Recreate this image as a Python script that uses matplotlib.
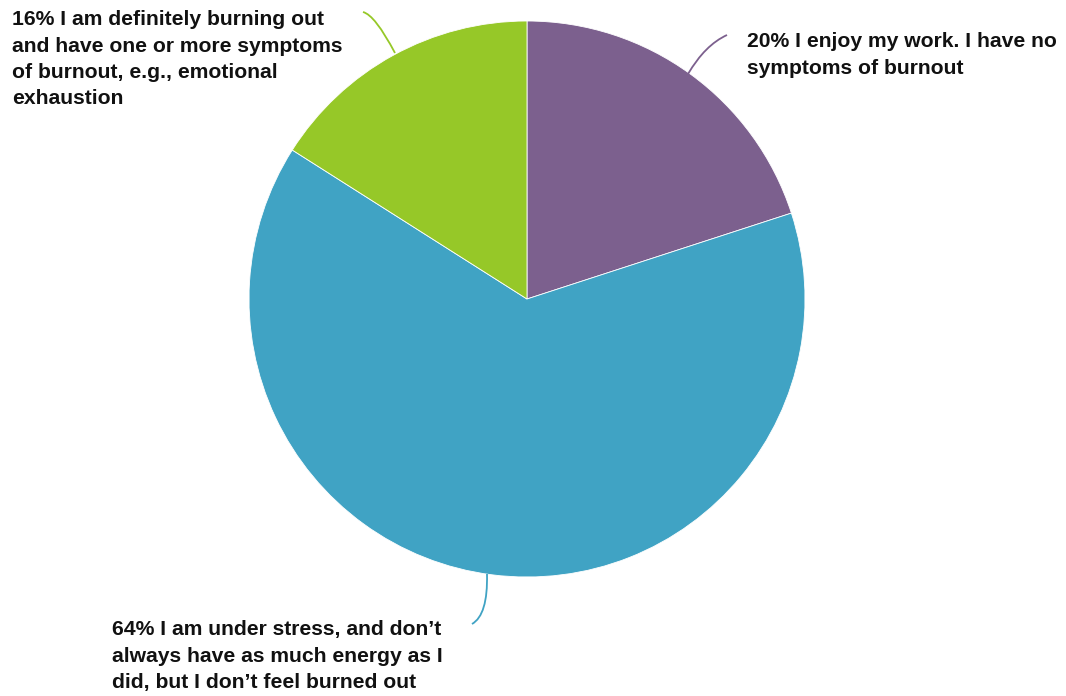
import matplotlib
matplotlib.use("Agg")
import matplotlib.pyplot as plt
from matplotlib.path import Path
from matplotlib.patches import PathPatch

labels = ["20% I enjoy my work. I have no\nsymptoms of burnout",
          "64% I am under stress, and don\u2019t\nalways have as much energy as I\ndid, but I don\u2019t feel burned out",
          "16% I am definitely burning out\nand have one or more symptoms\nof burnout, e.g., emotional\nexhaustion"]
values = [20, 64, 16]
colors = ["#7C608E", "#40A3C4", "#96C828"]

W, H = 1066, 696
fig = plt.figure(figsize=(W / 100, H / 100), dpi=100)
ax = fig.add_axes([0, 0, 1, 1])
ax.set_xlim(0, W)
ax.set_ylim(0, H)
ax.set_aspect("equal")
ax.axis("off")

cx, cy, r = 527, H - 299, 278
ax.pie(values, colors=colors, startangle=90, counterclock=False,
       center=(cx, cy), radius=r, frame=True,
       wedgeprops=dict(edgecolor="white", linewidth=0.6))
ax.set_xlim(0, W)
ax.set_ylim(0, H)
ax.axis("off")

def leader(p0, c, p1, color):
    path = Path([(p0[0], H - p0[1]), (c[0], H - c[1]), (p1[0], H - p1[1])],
                [Path.MOVETO, Path.CURVE3, Path.CURVE3])
    ax.add_patch(PathPatch(path, facecolor="none", edgecolor=color, lw=1.3))

leader((688, 74), (705, 45), (727, 35), colors[0])
leader((487, 574), (488, 615), (472, 624), colors[1])
leader((395, 53), (375, 15), (363, 12), colors[2])

font = dict(family="Liberation Sans", fontweight="bold", fontsize=15.2,
            color="#111111", linespacing=1.5, ha="left", va="top")
ax.text(747, H - 32, labels[0], **font)
ax.text(112, H - 620, labels[1], **font)
ax.text(12, H - 10, labels[2], **font)

fig.savefig("out.png", dpi=100)
